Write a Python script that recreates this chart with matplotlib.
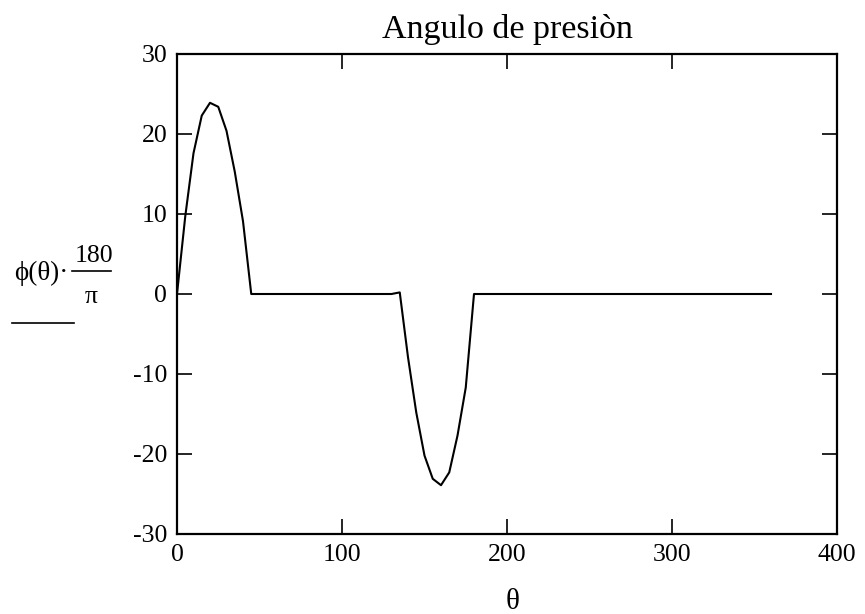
import numpy as np
import matplotlib.pyplot as plt
from matplotlib.lines import Line2D

# Pressure angle of the cam, sampled every 5 degrees of rotation
theta = np.arange(0, 365, 5)
rise = [0.0, 9.7, 17.6, 22.3, 23.9, 23.4, 20.4, 15.3, 9.1, 0.0]        # 0..45
dwell_1 = [0.0] * 17                                                   # 50..130
fall = [0.2, -7.9, -14.8, -20.2, -23.1, -23.9, -22.3, -17.7, -11.7, 0.0]  # 135..180
dwell_2 = [0.0] * 36                                                   # 185..360
phi_deg = np.array(rise + dwell_1 + fall + dwell_2)

xticks = [0, 100, 200, 300, 400]
yticks = [-30, -20, -10, 0, 10, 20, 30]

serif = ['Liberation Serif', 'DejaVu Serif']
plt.rcParams['font.family'] = serif

W, H = 865, 614
fig = plt.figure(figsize=(W / 100, H / 100), dpi=100)
ax = fig.add_axes([177 / W, 1 - 534 / H, 660 / W, 480 / H])

ax.plot(theta, phi_deg, color='black', linewidth=1.5)

ax.set_xlim(0, 400)
ax.set_ylim(-30, 30)
ax.set_xticks(xticks)
ax.set_yticks(yticks)
ax.set_yticklabels([str(v) for v in yticks])
ax.tick_params(direction='in', length=10.5, width=1.2, labelsize=18.5,
               top=True, right=True, pad=7, colors='black')
for s in ax.spines.values():
    s.set_linewidth(1.6)


def px(x, y):
    return x / W, 1 - y / H


# title and axis labels
fig.text(*px(507, 38), 'Angulo de presiòn', fontsize=24.5, ha='center', va='baseline')
fig.text(*px(513, 602), '\u03b8', fontsize=21, ha='center', va='center')

# y label: phi(theta)*180/pi
fig.text(*px(14, 273), '\u03d5(\u03b8)\u00b7', fontsize=19.5, ha='left', va='center')
fig.text(*px(94, 262), '180', fontsize=18.5, ha='center', va='baseline')
fig.text(*px(91, 303), '\u03c0', fontsize=18.5, ha='center', va='baseline')
fig.add_artist(Line2D([72 / W, 111 / W], [1 - 271 / H] * 2, color='black', linewidth=1.2))
fig.add_artist(Line2D([12 / W, 74 / W], [1 - 323 / H] * 2, color='black', linewidth=1.2))

fig.savefig('out.png', dpi=100)
